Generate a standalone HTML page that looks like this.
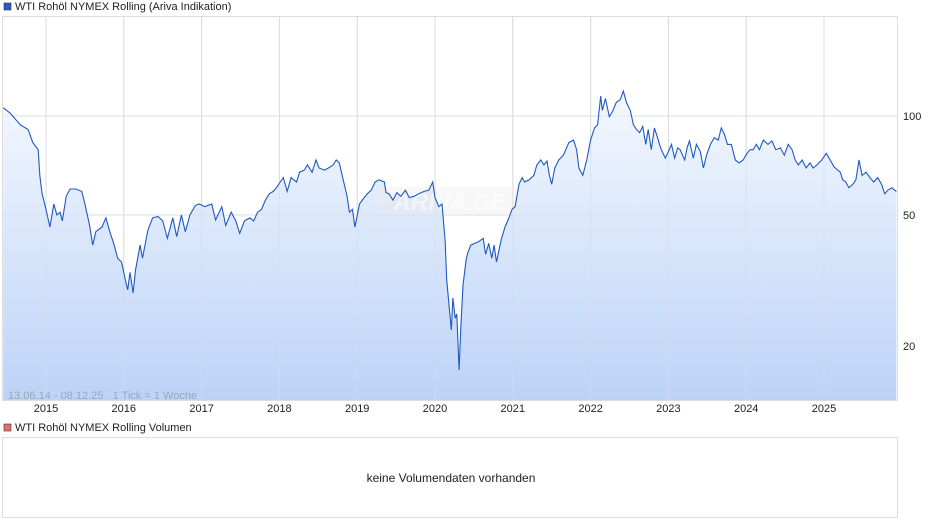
<!DOCTYPE html>
<html><head><meta charset="utf-8"><style>
body{margin:0;background:#fff;font-family:"Liberation Sans",sans-serif;}
#wrap{position:relative;width:940px;height:526px;overflow:hidden;}
</style></head><body>
<div id="wrap">
<svg id="svg" width="940" height="526" xmlns="http://www.w3.org/2000/svg">
<defs>
<linearGradient id="fg" x1="0" y1="0" x2="0" y2="1">
<stop offset="0" stop-color="#f4f8fe"/><stop offset="1" stop-color="#bcd3f7"/>
</linearGradient>
</defs>
<rect x="4" y="3" width="7" height="7" fill="#2a5cc4" stroke="#333" stroke-width="0.6"/>
<text x="15" y="10" font-size="11" fill="#222">WTI Rohöl NYMEX Rolling (Ariva Indikation)</text>
<rect x="2.5" y="16.5" width="895" height="384" fill="#fff" stroke="#ddd"/>
<g id="grid"></g>
<path id="area" fill="url(#fg)"/>
<g id="grid2"></g>
<rect x="380" y="187" width="140" height="27" fill="#ececec" opacity="0.4"/>
<text x="450" y="210" font-size="24" font-style="italic" font-weight="bold" fill="#fff" opacity="0.5" text-anchor="middle">ARIVA.DE</text>
<path id="line" fill="none" stroke="#2059c0" stroke-width="1.1"/>
<text x="8" y="399" font-size="11" fill="#9aa6b8" style="white-space:pre">13.06.14 - 08.12.25   1 Tick = 1 Woche</text>
<g id="xt"></g><g id="yt"></g>
<rect x="4" y="424" width="7" height="7" fill="#e07070" stroke="#333" stroke-width="0.6"/>
<text x="15" y="431" font-size="11" fill="#222">WTI Rohöl NYMEX Rolling Volumen</text>
<rect x="2.5" y="437.5" width="895" height="80" fill="#fff" stroke="#ddd"/>
<text x="451" y="482" font-size="12" fill="#222" text-anchor="middle">keine Volumendaten vorhanden</text>
</svg>
</div>
<script>
const dates=[2014.45,2014.54,2014.67,2014.77,2014.83,2014.90,2014.92,2014.95,2015.00,2015.05,2015.10,2015.14,2015.18,2015.21,2015.26,2015.31,2015.38,2015.46,2015.50,2015.56,2015.60,2015.64,2015.72,2015.77,2015.82,2015.87,2015.92,2015.97,2016.03,2016.05,2016.08,2016.12,2016.15,2016.21,2016.24,2016.31,2016.37,2016.44,2016.50,2016.56,2016.63,2016.68,2016.74,2016.79,2016.85,2016.92,2016.97,2017.04,2017.13,2017.18,2017.26,2017.31,2017.38,2017.44,2017.49,2017.55,2017.62,2017.67,2017.72,2017.77,2017.82,2017.87,2017.92,2017.96,2018.01,2018.05,2018.10,2018.15,2018.22,2018.26,2018.32,2018.36,2018.42,2018.47,2018.51,2018.58,2018.63,2018.69,2018.73,2018.77,2018.82,2018.87,2018.90,2018.94,2018.97,2019.03,2019.09,2019.13,2019.18,2019.23,2019.28,2019.35,2019.37,2019.41,2019.46,2019.51,2019.56,2019.62,2019.67,2019.73,2019.79,2019.86,2019.92,2019.97,2020.00,2020.05,2020.09,2020.13,2020.15,2020.21,2020.23,2020.26,2020.28,2020.31,2020.33,2020.36,2020.40,2020.42,2020.46,2020.51,2020.56,2020.62,2020.65,2020.69,2020.73,2020.76,2020.79,2020.85,2020.90,2020.95,2020.99,2021.03,2021.08,2021.12,2021.15,2021.21,2021.27,2021.31,2021.36,2021.40,2021.44,2021.47,2021.50,2021.54,2021.59,2021.65,2021.72,2021.78,2021.82,2021.85,2021.90,2021.95,2022.00,2022.05,2022.09,2022.13,2022.15,2022.19,2022.24,2022.28,2022.33,2022.38,2022.42,2022.46,2022.51,2022.55,2022.59,2022.63,2022.67,2022.71,2022.74,2022.78,2022.82,2022.86,2022.90,2022.92,2022.96,2023.00,2023.04,2023.08,2023.12,2023.15,2023.21,2023.24,2023.27,2023.32,2023.36,2023.41,2023.45,2023.49,2023.54,2023.59,2023.64,2023.68,2023.72,2023.76,2023.81,2023.86,2023.91,2023.96,2024.01,2024.05,2024.09,2024.13,2024.17,2024.22,2024.28,2024.33,2024.38,2024.44,2024.49,2024.54,2024.59,2024.63,2024.67,2024.72,2024.77,2024.82,2024.86,2024.91,2024.97,2025.03,2025.08,2025.13,2025.21,2025.24,2025.28,2025.32,2025.37,2025.41,2025.45,2025.49,2025.54,2025.59,2025.64,2025.69,2025.74,2025.78,2025.82,2025.87,2025.93];
const prices=[106,102,94,91,83,79,66,58,52,46,54,50,51,48,57,60,60,59,54,46.5,40.5,44.5,46,49,44.5,41,37,36,31,29.6,33.5,29,34,40.5,37,45,49,49.5,48,42.5,49,43,50,44.5,50,53.5,54,53,54,48.3,53,46.5,51,48,44,48,49,48,51,52,55.5,58,59,60.5,63,65,59,65,63,67.5,68.5,71,67.5,73.5,69.5,68.5,69.5,71,73.5,72,64,57,51,52,46,54,56.5,58,59.5,63,64,63,58.5,58,55.5,58.5,57,59.5,56.5,57,58,59,59.5,63,56.5,53,54,42,31.8,22.4,28,24.3,25,16.9,22.4,30.6,36.5,38.3,40.5,41,41.5,42.5,38,41,37,40.5,36,42,46,49,52,53,62,65,63,64,66,71,73.5,71,73,66,62,69.5,73.5,76,83,84.5,79,69.5,66,73.5,84.5,92,94,115,104,113,99.5,103,110,112,119,110,104,94,91,89,93,82,91,79,92,86,80,78,74.5,78,82,74.5,80,79,73.5,80,84,74.5,82,78,69.5,76,82,86,84.5,92,88,82,82,73.5,72,73.5,77,79,79,82,79,84.5,82,84,79,80,76,82,79,73.5,71,73.5,69.5,72,69.5,71,73.5,77,73.5,70,67.5,64,63,60.5,62,64,73.5,66,67.5,65,63,65,62,58,59.5,60.5,59];
const yTicks=[100,50,20];
const xTicks=[2015,2016,2017,2018,2019,2020,2021,2022,2023,2024,2025];
const NS='http://www.w3.org/2000/svg';
function xs(t){return 46+(t-2015)*77.8;}
function ys(v){return 116-329*Math.log10(v/100);}
const grid=document.getElementById('grid'),grid2=document.getElementById('grid2'),xt=document.getElementById('xt'),yt=document.getElementById('yt');
function mk(tag,a){const e=document.createElementNS(NS,tag);for(const k in a)e.setAttribute(k,a[k]);return e;}
xTicks.forEach(t=>{
 const l=mk('line',{x1:xs(t),x2:xs(t),y1:17,y2:400,stroke:'#ddd'});
 
 
 grid.appendChild(l);
 const l2=mk('line',{x1:xs(t),x2:xs(t),y1:17,y2:400,stroke:'#d4dcea','stroke-opacity':'0.6'});
 
 
 grid2.appendChild(l2);
 const tx=mk('text',{x:xs(t),y:412,'font-size':11,'text-anchor':'middle',fill:'#222'});
 tx.textContent=t;
 
 
 xt.appendChild(tx);
});
yTicks.forEach(v=>{
 const l=mk('line',{x1:3,x2:897,y1:ys(v),y2:ys(v),stroke:'#ddd'});
 
 
 grid.appendChild(l);
 const l2=mk('line',{x1:3,x2:897,y1:ys(v),y2:ys(v),stroke:'#d4dcea','stroke-opacity':'0.6'});
 
 
 grid2.appendChild(l2);
 const tx=mk('text',{x:903,y:ys(v)+4,'font-size':11,fill:'#222'});
 tx.textContent=v;
 
 
 yt.appendChild(tx);
});
let d='';
dates.forEach((t,i)=>{d+=(i?'L':'M')+xs(t).toFixed(1)+' '+ys(prices[i]).toFixed(1);});
document.getElementById('line').setAttribute('d',d);
document.getElementById('area').setAttribute('d',d+'L'+xs(dates[dates.length-1]).toFixed(1)+' 400L'+xs(dates[0]).toFixed(1)+' 400Z');
</script>
</body></html>
